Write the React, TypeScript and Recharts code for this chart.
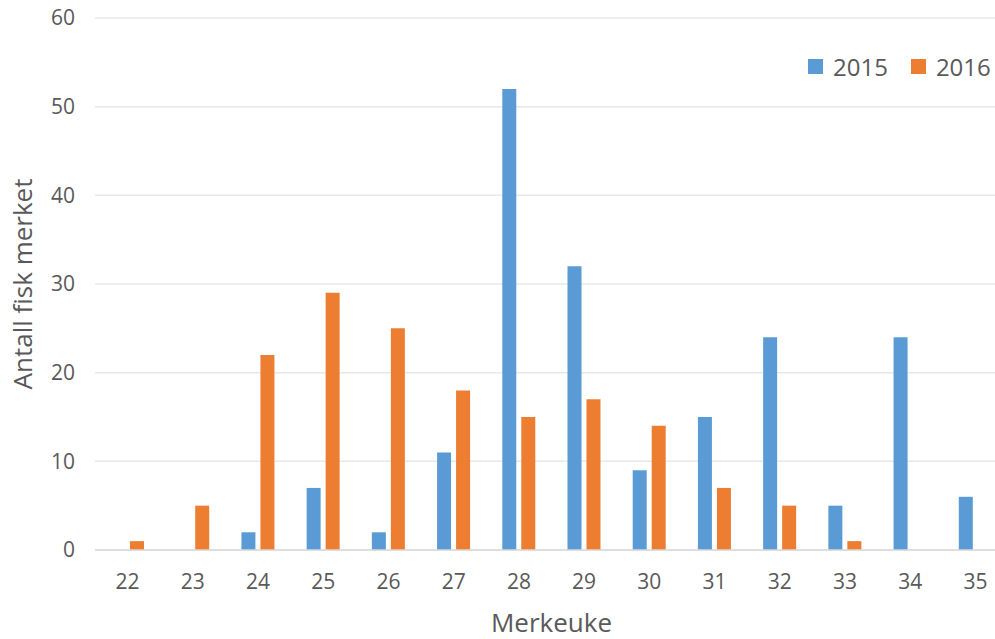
import React from 'react';
import { BarChart, Bar, XAxis, YAxis, CartesianGrid, Legend } from 'recharts';

// Marked fish per tagging week
const weeks = ['22', '23', '24', '25', '26', '27', '28', '29', '30', '31', '32', '33', '34', '35'];
const marked2015 = [0, 0, 2, 7, 2, 11, 52, 32, 9, 15, 24, 5, 24, 6];
const marked2016 = [1, 5, 22, 29, 25, 18, 15, 17, 14, 7, 5, 1, 0, 0];
const yTicks = [0, 10, 20, 30, 40, 50, 60];

const BLUE = '#5B9BD5';
const ORANGE = '#ED7D31';
const TEXT = '#595959';
const FONT = '"Open Sans", sans-serif';

const data = weeks.map((week, i) => ({
  week,
  y2015: marked2015[i],
  y2016: marked2016[i],
}));

const LegendContent = ({ payload }: any) => (
  <div style={{ display: 'flex', alignItems: 'center', fontFamily: FONT, fontSize: 24, color: TEXT }}>
    {(payload || []).map((entry: any, i: number) => (
      <div key={i} style={{ display: 'flex', alignItems: 'center', marginRight: 23 }}>
        <span style={{ width: 15, height: 15, background: entry.color, display: 'inline-block', marginRight: 10 }} />
        <span>{entry.value}</span>
      </div>
    ))}
  </div>
);

export default function App() {
  return (
    <div style={{ position: 'absolute', left: 0, top: 0, width: 995, height: 639, overflow: 'hidden', background: '#fff' }}>
      <BarChart
        width={1010}
        height={639}
        data={data}
        margin={{ top: 18, right: 2, left: 0, bottom: 0 }}
        barSize={14}
        barGap={5}
      >
        <CartesianGrid vertical={false} stroke="#e8e8e8" strokeWidth={1.5} />
        <XAxis
          dataKey="week"
          height={89}
          tickLine={false}
          axisLine={{ stroke: '#d9d9d9', strokeWidth: 1.5 }}
          tickMargin={18}
          tick={{ fill: TEXT, fontSize: 21, fontFamily: FONT }}
          label={{
            value: 'Merkeuke',
            position: 'insideBottom',
            offset: 7,
            style: { fill: TEXT, fontSize: 26, fontFamily: FONT },
          }}
        />
        <YAxis
          width={95}
          domain={[0, 60]}
          ticks={yTicks}
          tickLine={false}
          axisLine={false}
          tickMargin={14}
          tick={{ fill: TEXT, fontSize: 21, fontFamily: FONT }}
          label={{
            value: 'Antall fisk merket',
            angle: -90,
            position: 'insideLeft',
            offset: 23,
            style: { fill: TEXT, fontSize: 26, fontFamily: FONT, textAnchor: 'middle' },
          }}
        />
        <Legend
          layout="horizontal"
          align="center"
          verticalAlign="middle"
          wrapperStyle={{ left: 808, top: 50, width: 200 }}
          content={<LegendContent />}
        />
        <Bar dataKey="y2015" name="2015" fill={BLUE} isAnimationActive={false} />
        <Bar dataKey="y2016" name="2016" fill={ORANGE} isAnimationActive={false} />
      </BarChart>
    </div>
  );
}
